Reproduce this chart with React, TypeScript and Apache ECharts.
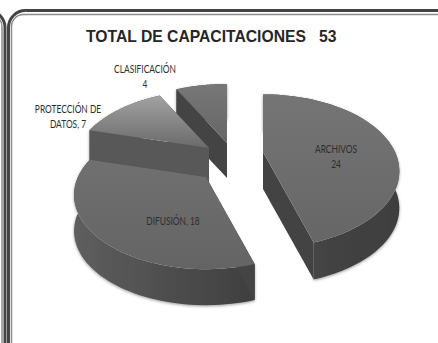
import React, { useEffect, useRef } from "react";
import * as echarts from "echarts";

const categories = ["ARCHIVOS", "DIFUSIÓN", "PROTECCIÓN DE DATOS", "CLASIFICACIÓN"];
const values = [24, 18, 7, 4];
const titleText = "TOTAL DE CAPACITACIONES   53";
const labelTexts = ["ARCHIVOS\n24", "DIFUSIÓN, 18", "PROTECCIÓN DE\nDATOS, 7", "CLASIFICACIÓN\n4"];

const total = values.reduce((a, b) => a + b, 0);
const cum: number[] = [];
values.reduce((acc, v, i) => ((cum[i] = acc), acc + v), 0);

const sliceStyle = [
  { cx: 263, cy: 152, s: 1, d: 37, top: ["#757575", "#666666"], wall: ["#484848", "#3e3e3e"], cut: "#434343", lx: 336, ly: 142 },
  { cx: 206, cy: 177, s: 0.97, d: 36, top: ["#707070", "#646464"], wall: ["#5e5e5e", "#3f3f3f"], cut: "#444444", lx: 173, ly: 214 },
  { cx: 209, cy: 148, s: 1, d: 37, top: ["#a2a2a2", "#6a6a6a"], wall: ["#5f5f5f", "#555555"], cut: "#585858", lx: 68, ly: 102 },
  { cx: 227, cy: 143, s: 1.03, d: 35, top: ["#777777", "#666666"], wall: ["#4a4a4a", "#4a4a4a"], cut: "#444444", lx: 145, ly: 62 },
];
const drawOrder = [3, 2, 0, 1];

const RX = 132;
const RY = 72;
const K = 0.25;

function project(i: number, deg: number, r = 1) {
  const st = sliceStyle[i];
  const t = (deg * Math.PI) / 180;
  const u = Math.sin(t) * r * st.s;
  const v = -Math.cos(t) * r * st.s;
  const w = 1 - K * v;
  return [st.cx + (RX * u) / w, st.cy + (RY * v) / w];
}

function renderSlice(_: any, api: any) {
  const i = api.value(0) as number;
  const st = sliceStyle[i];
  const a0 = (cum[i] / total) * 360;
  const a1 = ((cum[i] + api.value(1)) / total) * 360;
  const rim: number[][] = [];
  for (let k = 0; k <= 60; k++) rim.push(project(i, a0 + ((a1 - a0) * k) / 60));
  const down = (p: number[]) => [p[0], p[1] + st.d];
  const center = project(i, 0, 0);
  const first = rim[0];
  const last = rim[rim.length - 1];
  const minX = Math.min(...rim.map((p) => p[0]));
  const maxX = Math.max(...rim.map((p) => p[0]));
  const wallFill = new echarts.graphic.LinearGradient(
    minX, 0, maxX, 0,
    [{ offset: 0, color: st.wall[0] }, { offset: 1, color: st.wall[1] }],
    true
  );
  const topFill = new echarts.graphic.LinearGradient(
    0, 0, 0, 1,
    [{ offset: 0, color: st.top[0] }, { offset: 1, color: st.top[1] }]
  );
  return {
    type: "group",
    children: [
      {
        type: "polygon",
        shape: { points: [...rim, ...rim.slice().reverse().map(down)] },
        style: { fill: wallFill, shadowColor: "rgba(0,0,0,0.4)", shadowBlur: 3, shadowOffsetY: 1 },
      },
      { type: "polygon", shape: { points: [center, first, down(first), down(center)] }, style: { fill: st.cut } },
      { type: "polygon", shape: { points: [center, last, down(last), down(center)] }, style: { fill: st.cut } },
      { type: "polygon", shape: { points: [center, ...rim] }, style: { fill: topFill } },
      {
        type: "text",
        x: st.lx,
        y: st.ly,
        scaleX: 0.8,
        style: {
          text: labelTexts[i],
          fontFamily: "Lato",
          fontSize: 10.5,
          lineHeight: 15,
          fill: "#2e2e2e",
          align: "center",
          verticalAlign: "top",
        },
      },
    ],
  };
}

export default function App() {
  const ref = useRef<HTMLDivElement>(null);
  useEffect(() => {
    const chart = echarts.init(ref.current!, undefined, { renderer: "svg" });
    chart.setOption({
      animation: false,
      backgroundColor: "#ffffff",
      title: {
        text: titleText,
        left: 81,
        top: 23,
        textStyle: { fontFamily: "Liberation Sans", fontSize: 15.7, fontWeight: "bold", color: "#262626" },
      },
      graphic: [
        { type: "rect", shape: { x: 8.5, y: 10.5, width: 460, height: 400, r: 17 }, style: { fill: "none", stroke: "#444444", lineWidth: 3 } },
        { type: "rect", shape: { x: 11.5, y: 14.5, width: 460, height: 400, r: 12 }, style: { fill: "none", stroke: "#8c8c8c", lineWidth: 1.5 } },
        { type: "rect", shape: { x: -60, y: 10.5, width: 65, height: 400, r: 17 }, style: { fill: "none", stroke: "#444444", lineWidth: 3 } },
        { type: "rect", shape: { x: -60, y: 14.5, width: 62, height: 400, r: 12 }, style: { fill: "none", stroke: "#8c8c8c", lineWidth: 1.5 } },
      ],
      series: [
        {
          type: "custom",
          coordinateSystem: "none",
          renderItem: renderSlice,
          data: drawOrder.map((i) => ({ name: categories[i], value: [i, values[i]] })),
        },
      ],
    });
    return () => chart.dispose();
  }, []);
  return <div ref={ref} style={{ position: "fixed", left: 0, top: 0, width: 438, height: 343 }} />;
}
